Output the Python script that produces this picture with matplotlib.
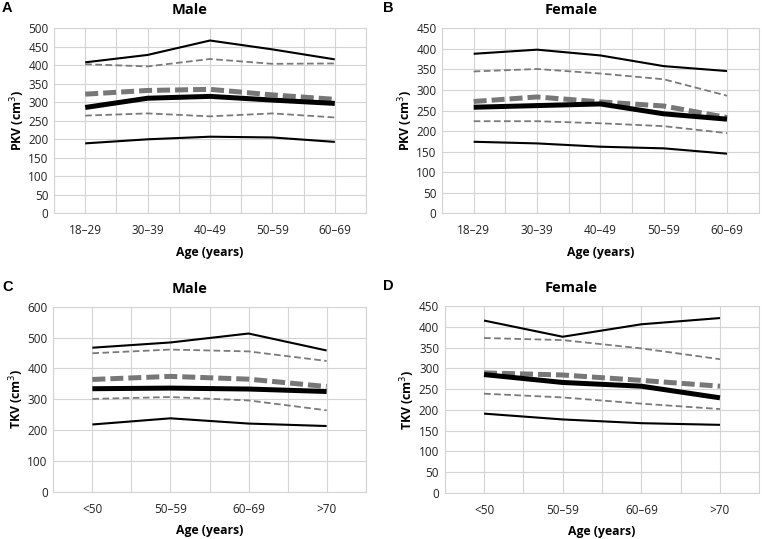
import matplotlib
matplotlib.use('Agg')
import matplotlib.pyplot as plt
import numpy as np

plt.rcParams['font.family'] = ['Open Sans', 'DejaVu Sans']

ages_pkv = ['18–29', '30–39', '40–49', '50–59', '60–69']
ages_tkv = ['<50', '50–59', '60–69', '>70']

# PKV, male (A)
a_hi = [408, 428, 467, 443, 416]
a_q3 = [403, 397, 417, 404, 405]
a_mean = [322, 332, 335, 320, 308]
a_med = [286, 311, 316, 306, 297]
a_q1 = [264, 270, 262, 270, 259]
a_lo = [189, 200, 207, 205, 193]

# PKV, female (B)
b_hi = [388, 398, 384, 358, 346]
b_q3 = [345, 351, 340, 326, 286]
b_mean = [272, 283, 271, 261, 233]
b_med = [258, 262, 266, 242, 229]
b_q1 = [224, 224, 219, 212, 195]
b_lo = [174, 170, 162, 158, 145]

# TKV, male (C)
c_hi = [467, 484, 513, 458]
c_q3 = [449, 461, 455, 424]
c_mean = [364, 374, 365, 341]
c_med = [334, 336, 333, 325]
c_q1 = [301, 307, 296, 264]
c_lo = [218, 238, 221, 213]

# TKV, female (D)
d_hi = [415, 376, 406, 421]
d_q3 = [373, 368, 348, 322]
d_mean = [289, 284, 271, 257]
d_med = [285, 266, 257, 229]
d_q1 = [239, 230, 215, 202]
d_lo = [191, 177, 168, 164]

W, H = 762, 539
fig = plt.figure(figsize=(W / 100, H / 100), dpi=100)

grid_c = '#d4d4d4'


def panel(box, letter, title, cats, series, ylab, ymax, ystep, chart_x0):
    x0, x1, y0, y1 = box  # pixel coords (left, right, top, bottom)
    ax = fig.add_axes([x0 / W, 1 - y1 / H, (x1 - x0) / W, (y1 - y0) / H])
    n = len(cats)
    x = np.arange(n)
    hi, q3, mean, med, q1, lo = series
    ax.plot(x, hi, color='black', lw=1.5, solid_capstyle='butt')
    ax.plot(x, lo, color='black', lw=1.5, solid_capstyle='butt')
    ax.plot(x, q3, color='#7a7a7a', lw=1.3, dashes=(3.7, 1.9))
    ax.plot(x, q1, color='#7a7a7a', lw=1.3, dashes=(3.7, 1.9))
    ax.plot(x, mean, color='#777777', lw=3.6, dashes=(2.6, 1.0))
    ax.plot(x, med, color='black', lw=3.6, solid_capstyle='butt')

    ax.set_xlim(-0.5, n - 0.5)
    ax.set_ylim(0, ymax)
    ax.set_xticks(x)
    ax.set_xticklabels(cats)
    ax.set_xticks(np.arange(-0.5, n, 1.0), minor=True)
    ax.set_yticks(np.arange(0, ymax + 1, ystep))
    ax.grid(True, which='both', color=grid_c, lw=0.8)
    ax.set_axisbelow(True)
    ax.tick_params(which='both', length=0, labelsize=8.5, colors='#222222')
    ax.tick_params(axis='x', pad=8)
    ax.tick_params(axis='y', pad=4)
    for s in ax.spines.values():
        s.set_color(grid_c)
        s.set_linewidth(0.8)
    ax.set_xlabel('Age (years)', fontsize=8.8, fontweight='bold', labelpad=6)
    ax.set_ylabel(ylab, fontsize=8.8, fontweight='bold', labelpad=1)

    fig.text((chart_x0 + 190) / W, 1 - (y0 - 18) / H, title, fontsize=10.5,
             fontweight='bold', ha='center', va='center')
    fig.text((chart_x0 + 2) / W, 1 - (y0 - 20) / H, letter, fontsize=10.5,
             fontweight='bold', ha='left', va='center', family='Liberation Sans')
    return ax


panel((54, 366, 28.3, 213.3), 'A', 'Male', ages_pkv,
      (a_hi, a_q3, a_mean, a_med, a_q1, a_lo), 'PKV (cm$^3$)', 500, 50, 0)
panel((442, 758.7, 28.3, 213.3), 'B', 'Female', ages_pkv,
      (b_hi, b_q3, b_mean, b_med, b_q1, b_lo), 'PKV (cm$^3$)', 450, 50, 381)
panel((53.3, 365.7, 306.7, 491.7), 'C', 'Male', ages_tkv,
      (c_hi, c_q3, c_mean, c_med, c_q1, c_lo), 'TKV (cm$^3$)', 600, 100, 0)
panel((444.7, 759.3, 306, 493), 'D', 'Female', ages_tkv,
      (d_hi, d_q3, d_mean, d_med, d_q1, d_lo), 'TKV (cm$^3$)', 450, 50, 381)

fig.savefig('out.png', dpi=100)
